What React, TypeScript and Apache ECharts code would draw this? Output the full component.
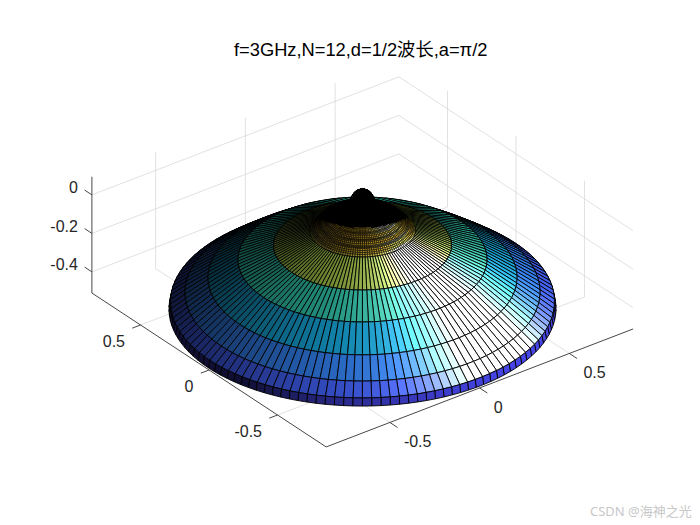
import { useEffect, useRef } from 'react'
import * as echarts from 'echarts'

const titleText = 'f=3GHz,N=12,d=1/2波长,a=π/2'
const watermark = 'CSDN @海神之光'

// profile of the dome, apex to rim
const ringRadius = [
  0, 0.008, 0.015, 0.022, 0.03, 0.035, 0.04, 0.045, 0.05, 0.057, 0.065, 0.072, 0.08, 0.09, 0.1, 0.11,
  0.12, 0.126, 0.132, 0.138, 0.144, 0.15, 0.153, 0.157, 0.162, 0.167, 0.172, 0.176, 0.18, 0.184, 0.189, 0.194,
  0.198, 0.202, 0.206, 0.212, 0.218, 0.224, 0.233, 0.394, 0.551, 0.684, 0.786, 0.85, 0.857,
]
const ringHeight = [
  0.115, 0.1145, 0.113, 0.109, 0.104, 0.098, 0.092, 0.083, 0.072, 0.05, 0.03, 0.024, 0.018, 0.012, 0.008, 0.005,
  0.0023, -0.002, -0.0063, -0.0105, -0.0148, -0.0164, -0.0178, -0.0201, -0.025, -0.0324, -0.0373, -0.0385, -0.0393, -0.0432, -0.0506, -0.0581,
  -0.0609, -0.0622, -0.064, -0.0708, -0.0777, -0.0845, -0.0922, -0.169, -0.2425, -0.335, -0.411, -0.461, -0.499,
]
const meridianCount = 130
// rows inside this radius are packed so tightly that their mesh lines merge
const denseRadius = 0.233

const xTicks = [-0.5, 0, 0.5]
const yTicks = [-0.5, 0, 0.5]
const zTicks = [-0.4, -0.2, 0]
const xTickLabels = ['-0.5', '0', '0.5']
const yTickLabels = ['-0.5', '0', '0.5']
const zTickLabels = ['-0.4', '-0.2', '0']

const xyLimit = 0.855
const zMin = -0.51
const zMax = 0.094

const colorLevels = [0, 0.12, 0.22, 0.33, 0.45, 0.55, 0.62, 0.72, 0.8, 1]
const colorStops = [
  [62, 38, 168],
  [71, 71, 235],
  [62, 111, 255],
  [39, 150, 235],
  [8, 180, 208],
  [60, 198, 150],
  [150, 195, 75],
  [225, 180, 40],
  [252, 195, 40],
  [249, 251, 21],
]
const colorMin = -0.56
const colorMax = 0.12

// orthographic view: az -37.5, el 30
type Vec = [number, number, number]
function project(p: Vec): [number, number] {
  return [362.5 + 179.5 * p[0] - 137 * p[1], 311 - 69 * p[0] - 90 * p[1] - 192.5 * (p[2] - zMin)]
}

const camera: Vec = [-0.527, -0.687, 0.5]
const screenRight: Vec = [0.795, -0.607, 0]
const screenUp: Vec = [0.305, 0.4, 0.865]

function normalize(v: Vec): Vec {
  const n = Math.hypot(v[0], v[1], v[2])
  return [v[0] / n, v[1] / n, v[2] / n]
}
function dot(a: Vec, b: Vec): number {
  return a[0] * b[0] + a[1] * b[1] + a[2] * b[2]
}
// build a direction from right / up / towards-camera parts
function viewVector(right: number, up: number, toward: number): Vec {
  return normalize([
    screenRight[0] * right + screenUp[0] * up + camera[0] * toward,
    screenRight[1] * right + screenUp[1] * up + camera[1] * toward,
    screenRight[2] * right + screenUp[2] * up + camera[2] * toward,
  ])
}
const light = viewVector(0.7, 0.3, 0.65)
const highlight = viewVector(0.4, 0.55, 0.73)

function baseColor(z: number): number[] {
  const t = Math.min(1, Math.max(0, (z - colorMin) / (colorMax - colorMin)))
  let i = 0
  while (i < colorLevels.length - 2 && t > colorLevels[i + 1]) i++
  const f = (t - colorLevels[i]) / (colorLevels[i + 1] - colorLevels[i])
  return colorStops[i].map((c, k) => c + (colorStops[i + 1][k] - c) * f)
}

function shade(z: number, n: Vec): string {
  const base = baseColor(z)
  const diffuse = Math.max(0, dot(n, light))
  const spec = Math.pow(Math.max(0, dot(n, highlight)), 32)
  const rgb = base.map((c) => Math.min(255, Math.round(c * (0.22 + 0.85 * diffuse) + 300 * spec)))
  return `rgb(${rgb[0]},${rgb[1]},${rgb[2]})`
}

type Facet = { points: [number, number][]; fill: string; depth: number; width: number }

function buildFacets(): Facet[] {
  const facets: Facet[] = []
  const step = (2 * Math.PI) / meridianCount
  for (let i = 0; i < ringRadius.length - 1; i++) {
    const r1 = ringRadius[i]
    const r2 = ringRadius[i + 1]
    const z1 = ringHeight[i]
    const z2 = ringHeight[i + 1]
    for (let j = 0; j < meridianCount; j++) {
      const a = j * step
      const b = a + step
      const m = a + step / 2
      const corners: Vec[] = [
        [r1 * Math.cos(a), r1 * Math.sin(a), z1],
        [r2 * Math.cos(a), r2 * Math.sin(a), z2],
        [r2 * Math.cos(b), r2 * Math.sin(b), z2],
        [r1 * Math.cos(b), r1 * Math.sin(b), z1],
      ]
      const n = normalize([-(z2 - z1) * Math.cos(m), -(z2 - z1) * Math.sin(m), r2 - r1])
      const mid: Vec = [((r1 + r2) / 2) * Math.cos(m), ((r1 + r2) / 2) * Math.sin(m), (z1 + z2) / 2]
      const centre = project(mid)
      const dx = centre[0] - 362.5
      // the mesh lines merge into a black lens around the knob
      const inLens = r2 <= denseRadius && centre[1] < 228 - 0.0052 * dx * dx
      let width = 0.9
      if (r2 <= denseRadius) width = inLens ? 1.4 : 0.6
      facets.push({
        points: corners.map(project),
        fill: inLens ? '#000' : shade((z1 + z2) / 2, n),
        depth: dot(mid, camera),
        width,
      })
    }
  }
  return facets.sort((p, q) => p.depth - q.depth)
}

type Segment = [Vec, Vec]

function gridSegments(): Segment[] {
  const L = xyLimit
  const out: Segment[] = []
  xTicks.forEach((x) => {
    out.push([[x, L, zMin], [x, L, zMax]])
    out.push([[x, -L, zMin], [x, L, zMin]])
  })
  yTicks.forEach((y) => {
    out.push([[L, y, zMin], [L, y, zMax]])
    out.push([[-L, y, zMin], [L, y, zMin]])
  })
  zTicks.forEach((z) => {
    out.push([[-L, L, z], [L, L, z]])
    out.push([[L, L, z], [L, -L, z]])
  })
  return out
}

function axisSegments(): Segment[] {
  const L = xyLimit
  const out: Segment[] = [
    [[-L, L, zMin], [-L, L, zMax]],
    [[-L, L, zMin], [-L, -L, zMin]],
    [[-L, -L, zMin], [L, -L, zMin]],
  ]
  xTicks.forEach((x) => out.push([[x, -L, zMin], [x, -L - 0.056, zMin]]))
  yTicks.forEach((y) => out.push([[-L, y, zMin], [-L - 0.046, y, zMin]]))
  zTicks.forEach((z) => out.push([[-L, L, z], [-L, L + 0.053, z]]))
  return out
}

type TickText = { at: Vec; text: string; dx: number; dy: number; align: string }

function tickTexts(): TickText[] {
  const L = xyLimit
  const out: TickText[] = []
  xTicks.forEach((x, i) => out.push({ at: [x, -L, zMin], text: xTickLabels[i], dx: 14, dy: 19.5, align: 'left' }))
  yTicks.forEach((y, i) => out.push({ at: [-L, y, zMin], text: yTickLabels[i], dx: -15.5, dy: 17, align: 'right' }))
  zTicks.forEach((z, i) => out.push({ at: [-L, L, z], text: zTickLabels[i], dx: -14, dy: -7, align: 'right' }))
  return out
}

function segmentSeries(segments: Segment[], color: string, width: number) {
  return {
    type: 'custom',
    coordinateSystem: 'cartesian2d',
    silent: true,
    progressive: 0,
    data: segments.map((_, i) => [i]),
    renderItem: (params: any, api: any) => {
      const seg = segments[params.dataIndex]
      const a = api.coord(project(seg[0]))
      const b = api.coord(project(seg[1]))
      return {
        type: 'line',
        shape: { x1: a[0], y1: a[1], x2: b[0], y2: b[1] },
        style: { stroke: color, lineWidth: width, fill: 'none' },
      }
    },
  }
}

export default function App() {
  const hostRef = useRef<HTMLDivElement | null>(null)

  useEffect(() => {
    const host = hostRef.current
    if (!host) return
    const chart = echarts.init(host, undefined, { renderer: 'svg' })

    const facets = buildFacets()
    const texts = tickTexts()

    chart.setOption({
      animation: false,
      backgroundColor: '#fff',
      title: {
        text: titleText,
        left: 229,
        top: 35,
        textStyle: {
          fontFamily: '"Liberation Sans", "Noto Sans CJK SC", sans-serif',
          fontSize: 18.3,
          fontWeight: 'normal',
          color: '#000',
        },
      },
      grid: { left: 0, right: 0, top: 0, bottom: 0 },
      xAxis: { type: 'value', min: 0, max: 700, show: false },
      yAxis: { type: 'value', min: 0, max: 525, inverse: true, show: false },
      graphic: [
        {
          type: 'text',
          left: 590,
          top: 504,
          style: {
            text: watermark,
            fontSize: 13,
            fontFamily: '"Noto Sans", "Noto Sans CJK SC", sans-serif',
            fill: '#c8c8c8',
          },
        },
      ],
      series: [
        segmentSeries(gridSegments(), '#d9d9d9', 0.8),
        segmentSeries(axisSegments(), '#333333', 0.9),
        {
          type: 'custom',
          coordinateSystem: 'cartesian2d',
          silent: true,
          progressive: 0,
          data: texts.map((_, i) => [i]),
          renderItem: (params: any, api: any) => {
            const t = texts[params.dataIndex]
            const p = api.coord(project(t.at))
            return {
              type: 'text',
              x: p[0] + t.dx,
              y: p[1] + t.dy,
              style: {
                text: t.text,
                align: t.align,
                verticalAlign: 'middle',
                fontFamily: '"Liberation Sans", sans-serif',
                fontSize: 16,
                fill: '#262626',
              },
            }
          },
        },
        {
          type: 'custom',
          coordinateSystem: 'cartesian2d',
          silent: true,
          progressive: 0,
          data: facets.map((_, i) => [i]),
          renderItem: (params: any, api: any) => {
            const f = facets[params.dataIndex]
            return {
              type: 'polygon',
              shape: { points: f.points.map((p) => api.coord(p)) },
              style: { fill: f.fill, stroke: '#000', lineWidth: f.width },
            }
          },
        },
      ],
    })

    return () => {
      chart.dispose()
    }
  }, [])

  return <div ref={hostRef} style={{ position: 'absolute', left: 0, top: 0, width: 700, height: 525 }} />
}
